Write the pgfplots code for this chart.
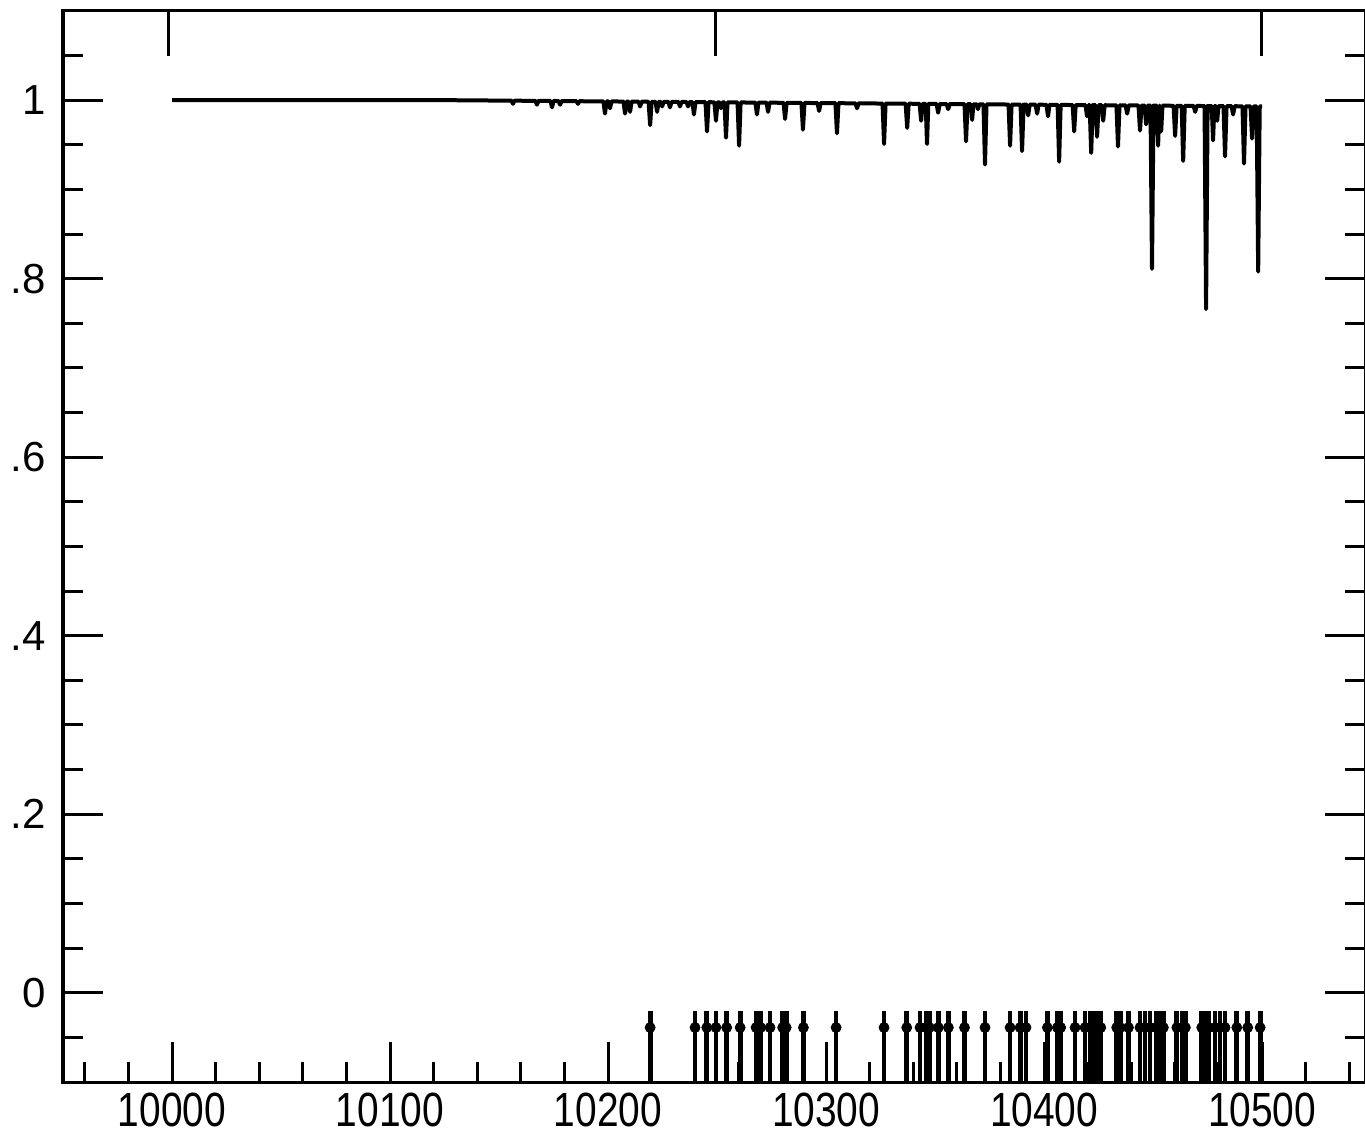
\documentclass[border=0pt]{standalone}
\usepackage{fontspec}
\setmainfont{Liberation Sans}
\newfontfamily\xlabfont{Liberation Sans}[FakeStretch=0.81]
\usepackage{pgfplots}
\usepackage{pgfplotstable}
\pgfplotsset{compat=1.18}
\pgfplotstableread{
x y
10000 1.000
10130 1.000
10155.7 0.9995
10156.4 0.996
10157.1 0.9995
10166.7 0.9993
10167.4 0.995
10168.1 0.9993
10173.6 0.9992
10174.3 0.992
10175.0 0.9992
10177.3 0.9991
10178.0 0.995
10178.7 0.9991
10185.5 0.9989
10186.2 0.996
10186.9 0.9989
10197.9 0.9987
10198.6 0.985
10199.3 0.9987
10200.2 0.9987
10200.9 0.991
10201.6 0.9987
10207.1 0.9985
10207.8 0.985
10208.5 0.9985
10209.4 0.9985
10210.1 0.987
10210.8 0.9985
10214.0 0.9984
10214.7 0.993
10215.4 0.9984
10218.6 0.9983
10219.3 0.972
10220.0 0.9983
10221.8 0.9983
10222.5 0.987
10223.2 0.9983
10224.1 0.9982
10224.8 0.993
10225.5 0.9982
10227.7 0.9981
10228.4 0.992
10229.1 0.9981
10232.3 0.9981
10233.0 0.993
10233.7 0.9981
10236.0 0.9980
10236.7 0.993
10237.4 0.9980
10238.7 0.9979
10239.4 0.984
10240.1 0.9979
10244.7 0.9978
10245.4 0.965
10246.1 0.9978
10248.8 0.9977
10249.5 0.977
10250.2 0.9977
10251.1 0.9977
10251.8 0.991
10252.5 0.9977
10253.4 0.9977
10254.1 0.958
10254.8 0.9977
10259.4 0.9975
10260.1 0.949
10260.8 0.9975
10267.6 0.9974
10268.3 0.984
10269.0 0.9974
10272.7 0.9973
10273.4 0.987
10274.1 0.9973
10280.5 0.9971
10281.2 0.979
10281.9 0.9971
10288.7 0.9970
10289.4 0.967
10290.1 0.9970
10296.1 0.9968
10296.8 0.988
10297.5 0.9968
10304.3 0.9967
10305.0 0.963
10305.7 0.9967
10313.5 0.9965
10314.2 0.991
10314.9 0.9965
10325.9 0.9963
10326.6 0.951
10327.3 0.9963
10336.5 0.9961
10337.2 0.969
10337.9 0.9961
10342.9 0.9960
10343.6 0.977
10344.3 0.9960
10345.7 0.9959
10346.3 0.951
10346.9 0.9959
10350.7 0.9958
10351.4 0.986
10352.1 0.9958
10355.3 0.9957
10356.0 0.990
10356.7 0.9957
10363.5 0.9956
10364.2 0.954
10364.9 0.9956
10366.4 0.9955
10367.0 0.978
10367.6 0.9955
10369.1 0.9955
10369.7 0.990
10370.3 0.9955
10372.2 0.9954
10372.9 0.928
10373.6 0.9954
10383.7 0.9952
10384.4 0.949
10385.1 0.9952
10389.2 0.9951
10389.9 0.943
10390.6 0.9951
10392.0 0.9950
10392.7 0.983
10393.4 0.9950
10396.1 0.9950
10396.8 0.985
10397.5 0.9950
10401.1 0.9949
10401.8 0.982
10402.5 0.9949
10406.2 0.9948
10406.9 0.931
10407.6 0.9948
10413.1 0.9946
10413.8 0.965
10414.5 0.9946
10419.0 0.9945
10419.7 0.982
10420.4 0.9945
10420.9 0.9945
10421.6 0.941
10422.3 0.9945
10423.6 0.9944
10424.3 0.959
10425.0 0.9944
10426.4 0.9944
10427.1 0.977
10427.8 0.9944
10433.2 0.9943
10433.9 0.948
10434.6 0.9943
10437.4 0.9942
10438.1 0.985
10438.8 0.9942
10443.3 0.9941
10444.0 0.966
10444.7 0.9941
10446.1 0.9940
10446.8 0.973
10447.5 0.9940
10448.8 0.9940
10449.5 0.811
10450.2 0.9940
10451.7 0.9939
10452.3 0.949
10452.9 0.9939
10453.1 0.9939
10453.7 0.965
10454.3 0.9939
10459.4 0.9938
10460.1 0.960
10460.8 0.9938
10463.1 0.9937
10463.8 0.932
10464.5 0.9937
10468.6 0.9936
10469.3 0.987
10470.0 0.9936
10473.6 0.9935
10474.3 0.766
10475.0 0.9935
10476.9 0.9934
10477.5 0.955
10478.1 0.9934
10478.8 0.9934
10479.4 0.977
10480.0 0.9934
10482.3 0.9933
10483.0 0.937
10483.7 0.9933
10486.0 0.9933
10486.7 0.984
10487.4 0.9933
10491.0 0.9932
10491.7 0.929
10492.4 0.9932
10494.7 0.9931
10495.4 0.957
10496.1 0.9931
10497.5 0.9930
10498.2 0.808
10498.9 0.9930
10500 0.9930
}\spectrum
\begin{document}
\begin{tikzpicture}
\begin{axis}[
  scale only axis, width=651pt, height=535.5pt,
  xmin=9950, xmax=10547.2, ymin=-0.1, ymax=1.1,
  axis line style={line width=1.5pt},
  tick style={line width=1.5pt, black},
  tick align=inside,
  major tick length=20pt, minor tick length=10pt,
  xtick pos=left, ytick pos=both,
  scaled x ticks=false, scaled y ticks=false,
  xtick={10000,10100,10200,10300,10400,10500},
  xticklabels={10000,10100,10200,10300,10400,10500},
  minor xtick={9960,9980,10020,10040,10060,10080,10120,10140,10160,10180,10220,10240,10260,10280,10320,10340,10360,10380,10420,10440,10460,10480,10520,10540},
  ytick={0,0.2,0.4,0.6,0.8,1},
  yticklabels={0,.2,.4,.6,.8,1},
  minor ytick={-0.05,0.05,0.1,0.15,0.25,0.3,0.35,0.45,0.5,0.55,0.65,0.7,0.75,0.85,0.9,0.95,1.05},
  xticklabel style={font=\xlabfont\fontsize{24}{24}\selectfont, yshift=-2pt},
  yticklabel style={font=\fontsize{21}{21}\selectfont, xshift=-5pt},
]
\coordinate (SW) at (rel axis cs:0,0);
\coordinate (NE) at (rel axis cs:1,1);
\addplot[black, line width=2pt, line join=round, mark=none] table[x=x,y=y] {\spectrum};
\addplot[black, only marks, mark=*, mark size=2.5pt,
  error bars/.cd, y dir=both, y explicit, error mark=none,
  error bar style={line width=2.4pt}]
coordinates {
(10219.3,-0.039) += (0,0.019) -= (0,0.061)
(10239.9,-0.039) += (0,0.019) -= (0,0.061)
(10245.3,-0.039) += (0,0.019) -= (0,0.061)
(10249.5,-0.039) += (0,0.019) -= (0,0.061)
(10254.4,-0.039) += (0,0.019) -= (0,0.061)
(10260.6,-0.039) += (0,0.019) -= (0,0.061)
(10267.9,-0.039) += (0,0.019) -= (0,0.061)
(10270.0,-0.039) += (0,0.019) -= (0,0.061)
(10274.3,-0.039) += (0,0.019) -= (0,0.061)
(10280.1,-0.039) += (0,0.019) -= (0,0.061)
(10281.7,-0.039) += (0,0.019) -= (0,0.061)
(10289.6,-0.039) += (0,0.019) -= (0,0.061)
(10304.6,-0.039) += (0,0.019) -= (0,0.061)
(10326.6,-0.039) += (0,0.019) -= (0,0.061)
(10337.0,-0.039) += (0,0.019) -= (0,0.061)
(10343.1,-0.039) += (0,0.019) -= (0,0.061)
(10345.9,-0.039) += (0,0.019) -= (0,0.061)
(10347.4,-0.039) += (0,0.019) -= (0,0.061)
(10351.5,-0.039) += (0,0.019) -= (0,0.061)
(10356.1,-0.039) += (0,0.019) -= (0,0.061)
(10363.5,-0.039) += (0,0.019) -= (0,0.061)
(10372.9,-0.039) += (0,0.019) -= (0,0.061)
(10384.4,-0.039) += (0,0.019) -= (0,0.061)
(10389.0,-0.039) += (0,0.019) -= (0,0.061)
(10391.7,-0.039) += (0,0.019) -= (0,0.061)
(10401.5,-0.039) += (0,0.019) -= (0,0.061)
(10406.1,-0.039) += (0,0.019) -= (0,0.061)
(10407.6,-0.039) += (0,0.019) -= (0,0.061)
(10414.2,-0.039) += (0,0.019) -= (0,0.061)
(10418.8,-0.039) += (0,0.019) -= (0,0.061)
(10421.4,-0.039) += (0,0.019) -= (0,0.061)
(10422.9,-0.039) += (0,0.019) -= (0,0.061)
(10424.4,-0.039) += (0,0.019) -= (0,0.061)
(10426.0,-0.039) += (0,0.019) -= (0,0.061)
(10433.3,-0.039) += (0,0.019) -= (0,0.061)
(10434.9,-0.039) += (0,0.019) -= (0,0.061)
(10438.7,-0.039) += (0,0.019) -= (0,0.061)
(10444.0,-0.039) += (0,0.019) -= (0,0.061)
(10446.3,-0.039) += (0,0.019) -= (0,0.061)
(10448.6,-0.039) += (0,0.019) -= (0,0.061)
(10451.4,-0.039) += (0,0.019) -= (0,0.061)
(10453.2,-0.039) += (0,0.019) -= (0,0.061)
(10454.7,-0.039) += (0,0.019) -= (0,0.061)
(10460.9,-0.039) += (0,0.019) -= (0,0.061)
(10463.6,-0.039) += (0,0.019) -= (0,0.061)
(10464.8,-0.039) += (0,0.019) -= (0,0.061)
(10472.3,-0.039) += (0,0.019) -= (0,0.061)
(10473.9,-0.039) += (0,0.019) -= (0,0.061)
(10475.4,-0.039) += (0,0.019) -= (0,0.061)
(10478.4,-0.039) += (0,0.019) -= (0,0.061)
(10480.7,-0.039) += (0,0.019) -= (0,0.061)
(10483.0,-0.039) += (0,0.019) -= (0,0.061)
(10488.4,-0.039) += (0,0.019) -= (0,0.061)
(10493.4,-0.039) += (0,0.019) -= (0,0.061)
(10499.1,-0.039) += (0,0.019) -= (0,0.061)
};
\end{axis}
\begin{axis}[
  scale only axis, width=651pt, height=535.5pt,
  xmin=9950, xmax=10547.2, ymin=-0.1, ymax=1.1,
  axis line style={line width=1.5pt},
  tick style={line width=1.5pt, black},
  tick align=inside, major tick length=22.5pt,
  scaled x ticks=false,
  xtick pos=right, xtick={9998.6,10249.5,10499.5}, xticklabels={},
  ytick=\empty, minor xtick={},
]
\end{axis}
\pgfresetboundingbox
\useasboundingbox ([xshift=-31.5pt,yshift=-32pt]SW) rectangle ([yshift=5.5pt]NE);
\end{tikzpicture}
\end{document}
